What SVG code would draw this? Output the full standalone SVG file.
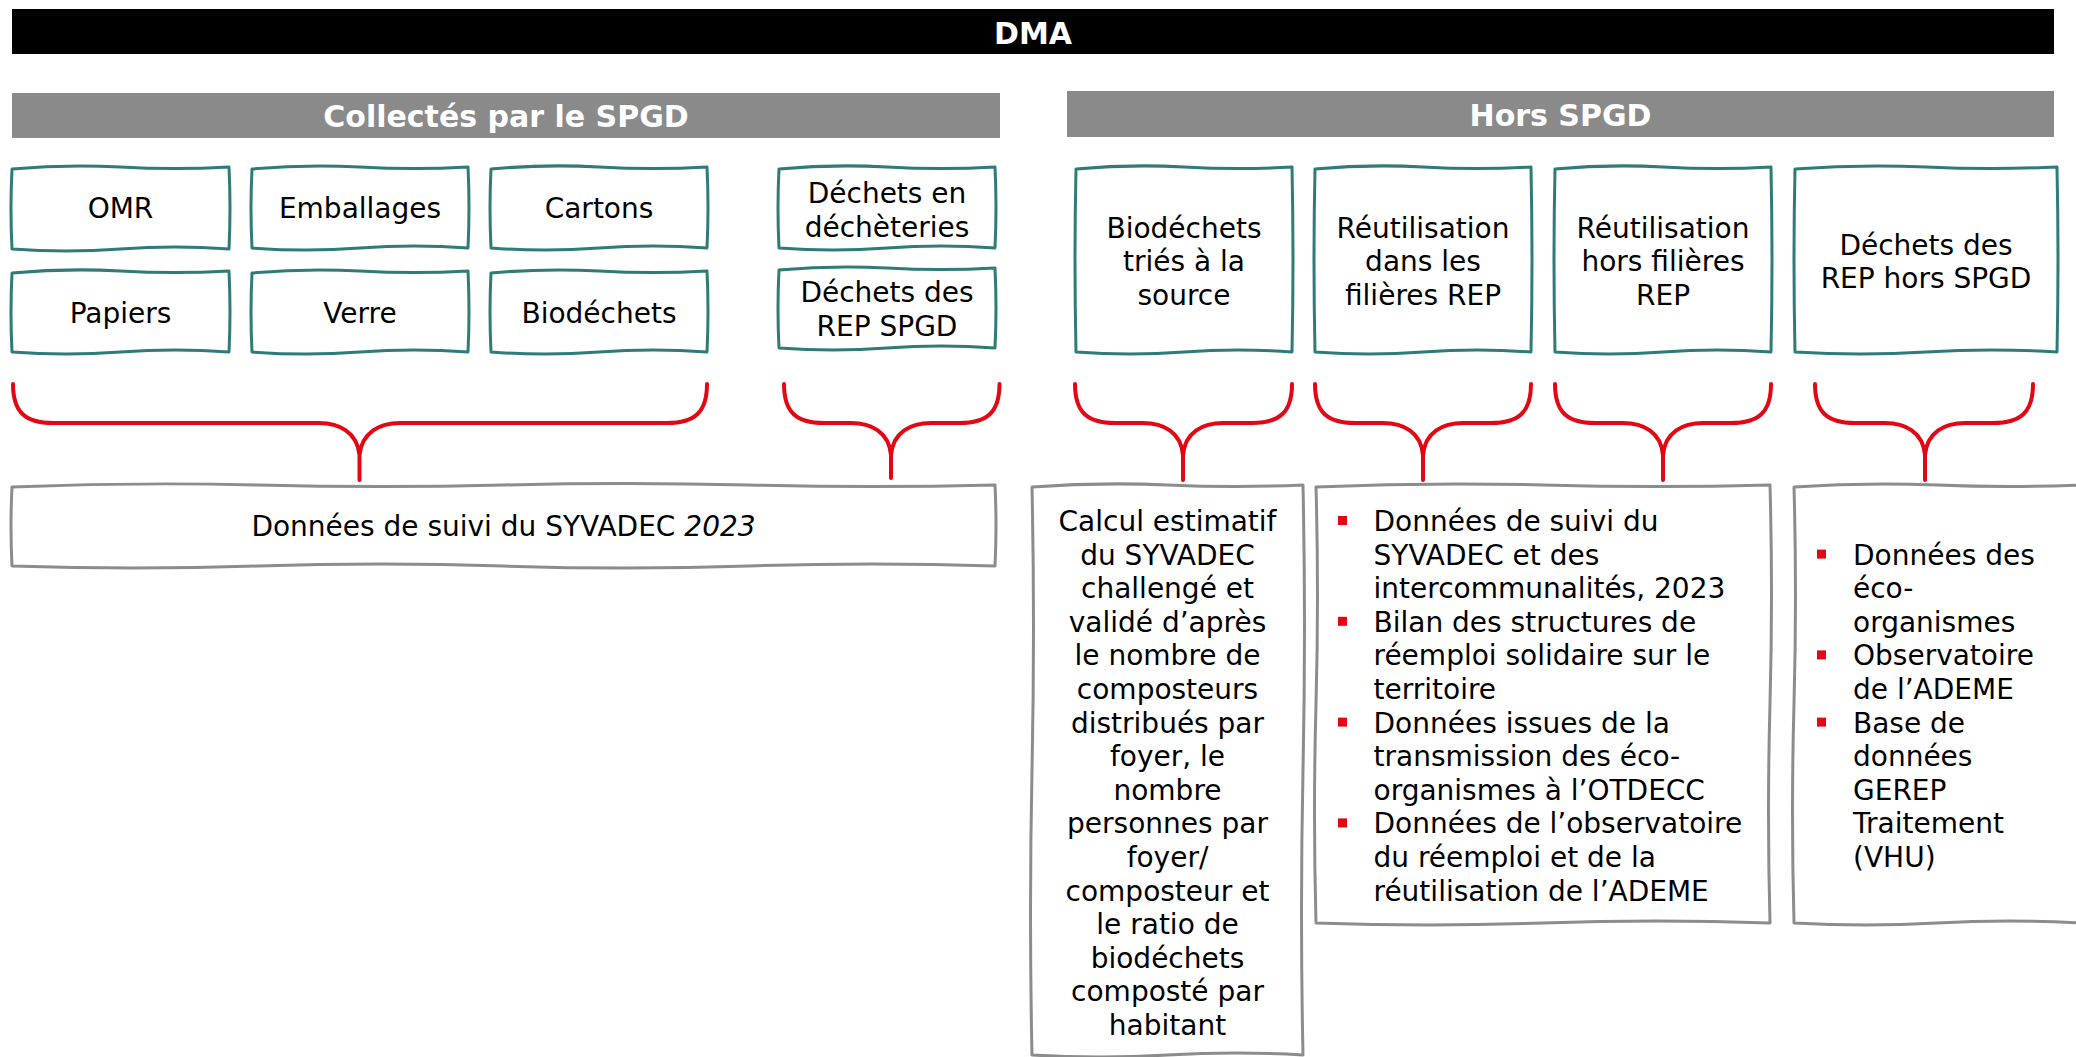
<svg xmlns="http://www.w3.org/2000/svg" width="2076" height="1057" viewBox="0 0 2076 1057">
<style>
.t{font-family:"DejaVu Sans","Verdana",sans-serif;font-size:28px;fill:#000}
.c{text-anchor:middle}
.h{font-family:"DejaVu Sans","Verdana",sans-serif;font-size:30px;font-weight:bold;fill:#fff;text-anchor:middle}
.teal{fill:#fff;stroke:#2E7B78;stroke-width:3;stroke-linejoin:round}
.gray{fill:#fff;stroke:#8C8C8C;stroke-width:3;stroke-linejoin:round}
.brace{fill:none;stroke:#E30613;stroke-width:4;stroke-linecap:round;stroke-linejoin:round}
.bul{fill:#E30613}
</style>
<rect width="2076" height="1057" fill="#fff"/>
<g id="header-dma"><rect x="12" y="9" width="2042" height="45" fill="#000"/><text class="h" x="1033" y="43.5">DMA</text></g>
<g id="header-spgd"><rect x="12" y="93" width="988" height="45" fill="#8A8A8A"/><text class="h" x="506" y="127">Collectés par le SPGD</text></g>
<g id="header-hors"><rect x="1067" y="91" width="987" height="46" fill="#8A8A8A"/><text class="h" x="1560.5" y="126">Hors SPGD</text></g>

<g id="n-omr"><path class="teal" d="M12,169 Q66,164 120.5,167 T229,167 Q231,208 229,249 Q175,245 120.5,249 T12,249 Q10,208 12,169Z"/><text class="t c" x="120.5" y="218">OMR</text></g>
<g id="n-emballages"><path class="teal" d="M252,169 Q306,164 360,167 T468,167 Q470,207.5 468,248 Q414,244 360,248 T252,248 Q250,207.5 252,169Z"/><text class="t c" x="360" y="218">Emballages</text></g>
<g id="n-cartons"><path class="teal" d="M491,169 Q545,164 599,167 T707,167 Q709,207.5 707,248 Q653,244 599,248 T491,248 Q489,207.5 491,169Z"/><text class="t c" x="599" y="218">Cartons</text></g>
<g id="n-decheteries"><path class="teal" d="M779,169 Q833,164 887,167 T995,167 Q997,207.5 995,248 Q941,244 887,248 T779,248 Q777,207.5 779,169Z"/><text class="t c" x="887" y="203">Déchets en</text><text class="t c" x="887" y="237">déchèteries</text></g>
<g id="n-papiers"><path class="teal" d="M12,273 Q66,268 120.5,271 T229,271 Q231,311.5 229,352 Q175,348 120.5,352 T12,352 Q10,311.5 12,273Z"/><text class="t c" x="120.5" y="323">Papiers</text></g>
<g id="n-verre"><path class="teal" d="M252,273 Q306,268 360,271 T468,271 Q470,311.5 468,352 Q414,348 360,352 T252,352 Q250,311.5 252,273Z"/><text class="t c" x="360" y="323">Verre</text></g>
<g id="n-biodechets"><path class="teal" d="M491,273 Q545,268 599,271 T707,271 Q709,311.5 707,352 Q653,348 599,352 T491,352 Q489,311.5 491,273Z"/><text class="t c" x="599" y="323">Biodéchets</text></g>
<g id="n-rep-spgd"><path class="teal" d="M779,270 Q833,265 887,268 T995,268 Q997,308 995,348 Q941,344 887,348 T779,348 Q777,308 779,270Z"/><text class="t c" x="887" y="302">Déchets des</text><text class="t c" x="887" y="336">REP SPGD</text></g>

<g id="n-bio-source"><path class="teal" d="M1076,169 Q1130,164 1184,167 T1292,167 Q1294,259.5 1292,352 Q1238,348 1184,352 T1076,352 Q1074,259.5 1076,169Z"/><text class="t c" x="1184" y="237.5">Biodéchets</text><text class="t c" x="1184" y="271">triés à la</text><text class="t c" x="1184" y="304.5">source</text></g>
<g id="n-reut-rep"><path class="teal" d="M1315,169 Q1369,164 1423,167 T1531,167 Q1533,259.5 1531,352 Q1477,348 1423,352 T1315,352 Q1313,259.5 1315,169Z"/><text class="t c" x="1423" y="237.5">Réutilisation</text><text class="t c" x="1423" y="271">dans les</text><text class="t c" x="1423" y="304.5">filières REP</text></g>
<g id="n-reut-hors"><path class="teal" d="M1555,169 Q1609,164 1663,167 T1771,167 Q1773,259.5 1771,352 Q1717,348 1663,352 T1555,352 Q1553,259.5 1555,169Z"/><text class="t c" x="1663" y="237.5">Réutilisation</text><text class="t c" x="1663" y="271">hors filières</text><text class="t c" x="1663" y="304.5">REP</text></g>
<g id="n-rep-hors"><path class="teal" d="M1795,169 Q1860.5,164 1926,167 T2057,167 Q2059,259.5 2057,352 Q1991.5,348 1926,352 T1795,352 Q1793,259.5 1795,169Z"/><text class="t c" x="1926" y="254.5">Déchets des</text><text class="t c" x="1926" y="288">REP hors SPGD</text></g>

<g id="connectors">
<path class="brace" d="M13,384 C13,412 25,423 53,423 L319,423 C339,423 357,432 359.5,455 M707,384 C707,412 695,423 667,423 L400,423 C380,423 362,432 359.5,455 M359.5,453 L359.5,480"/>
<path class="brace" d="M784,384 C784,412 796,423 824,423 L851,423 C871,423 889,432 891,455 M999.5,384 C999.5,412 987.5,423 959.5,423 L931,423 C911,423 893,432 891,455 M891,453 L891,478"/>
<path class="brace" d="M1075,384 C1075,412 1087,423 1115,423 L1143,423 C1163,423 1181,432 1183,455 M1292,384 C1292,412 1280,423 1252,423 L1223,423 C1203,423 1185,432 1183,455 M1183,453 L1183,480"/>
<path class="brace" d="M1315,384 C1315,412 1327,423 1355,423 L1383,423 C1403,423 1421,432 1423,455 M1531,384 C1531,412 1519,423 1491,423 L1463,423 C1443,423 1425,432 1423,455 M1423,453 L1423,480"/>
<path class="brace" d="M1555,384 C1555,412 1567,423 1595,423 L1623,423 C1643,423 1661,432 1663,455 M1771,384 C1771,412 1759,423 1731,423 L1703,423 C1683,423 1665,432 1663,455 M1663,453 L1663,480"/>
<path class="brace" d="M1815,384 C1815,412 1827,423 1855,423 L1885,423 C1905,423 1923,432 1925,455 M2033,384 C2033,412 2021,423 1993,423 L1965,423 C1945,423 1927,432 1925,455 M1925,453 L1925,480"/>
</g>

<g id="n-suivi-syvadec"><path class="gray" d="M12,487 Q135,482 258,485 T503.5,485 T749,485 T995,485 Q997,525.5 995,566 Q872,562 749,566 T503.5,566 T258,566 T12,566 Q10,525.5 12,487Z"/><text class="t c" x="503.5" y="536">Données de suivi du SYVADEC <tspan font-style="italic">2023</tspan></text></g>

<g id="n-calcul"><path class="gray" d="M1032,487 Q1100,482 1167.5,485 T1303,485 Q1306,627.5 1303,770 T1303,1055 Q1235,1051 1167.5,1055 T1032,1055 Q1029,912.5 1032,770 T1032,487Z"/>
<text class="t c" x="1167.5" y="531"><tspan x="1167.5">Calcul estimatif</tspan><tspan x="1167.5" dy="33.6">du SYVADEC</tspan><tspan x="1167.5" dy="33.6">challengé et</tspan><tspan x="1167.5" dy="33.6">validé d’après</tspan><tspan x="1167.5" dy="33.6">le nombre de</tspan><tspan x="1167.5" dy="33.6">composteurs</tspan><tspan x="1167.5" dy="33.6">distribués par</tspan><tspan x="1167.5" dy="33.6">foyer, le</tspan><tspan x="1167.5" dy="33.6">nombre</tspan><tspan x="1167.5" dy="33.6">personnes par</tspan><tspan x="1167.5" dy="33.6">foyer/</tspan><tspan x="1167.5" dy="33.6">composteur et</tspan><tspan x="1167.5" dy="33.6">le ratio de</tspan><tspan x="1167.5" dy="33.6">biodéchets</tspan><tspan x="1167.5" dy="33.6">composté par</tspan><tspan x="1167.5" dy="33.6">habitant</tspan></text></g>

<g id="n-sources-reut"><path class="gray" d="M1316,487 Q1429.5,482 1543,485 T1770,485 Q1773,594.5 1770,704 T1770,923 Q1656.5,919 1543,923 T1316,923 Q1313,813.5 1316,704 T1316,487Z"/>
<rect class="bul" x="1338" y="516" width="9" height="9"/><rect class="bul" x="1338" y="616.8" width="9" height="9"/><rect class="bul" x="1338" y="717.6" width="9" height="9"/><rect class="bul" x="1338" y="818.4" width="9" height="9"/>
<text class="t" x="1373.5" y="531"><tspan x="1373.5">Données de suivi du</tspan><tspan x="1373.5" dy="33.6">SYVADEC et des</tspan><tspan x="1373.5" dy="33.6">intercommunalités, 2023</tspan><tspan x="1373.5" dy="33.6">Bilan des structures de</tspan><tspan x="1373.5" dy="33.6">réemploi solidaire sur le</tspan><tspan x="1373.5" dy="33.6">territoire</tspan><tspan x="1373.5" dy="33.6">Données issues de la</tspan><tspan x="1373.5" dy="33.6">transmission des éco-</tspan><tspan x="1373.5" dy="33.6">organismes à l’OTDECC</tspan><tspan x="1373.5" dy="33.6">Données de l’observatoire</tspan><tspan x="1373.5" dy="33.6">du réemploi et de la</tspan><tspan x="1373.5" dy="33.6">réutilisation de l’ADEME</tspan></text></g>

<g id="n-sources-rep"><path class="gray" d="M1794,487 Q1865.5,482 1937,485 T2080,485 L2080,923 Q2008.5,919 1937,923 T1794,923 Q1791,813.5 1794,704 T1794,487Z"/>
<rect class="bul" x="1817" y="549.6" width="9" height="9"/><rect class="bul" x="1817" y="650.4" width="9" height="9"/><rect class="bul" x="1817" y="717.6" width="9" height="9"/>
<text class="t" x="1853" y="564.6"><tspan x="1853">Données des</tspan><tspan x="1853" dy="33.6">éco-</tspan><tspan x="1853" dy="33.6">organismes</tspan><tspan x="1853" dy="33.6">Observatoire</tspan><tspan x="1853" dy="33.6">de l’ADEME</tspan><tspan x="1853" dy="33.6">Base de</tspan><tspan x="1853" dy="33.6">données</tspan><tspan x="1853" dy="33.6">GEREP</tspan><tspan x="1853" dy="33.6">Traitement</tspan><tspan x="1853" dy="33.6">(VHU)</tspan></text></g>
</svg>
